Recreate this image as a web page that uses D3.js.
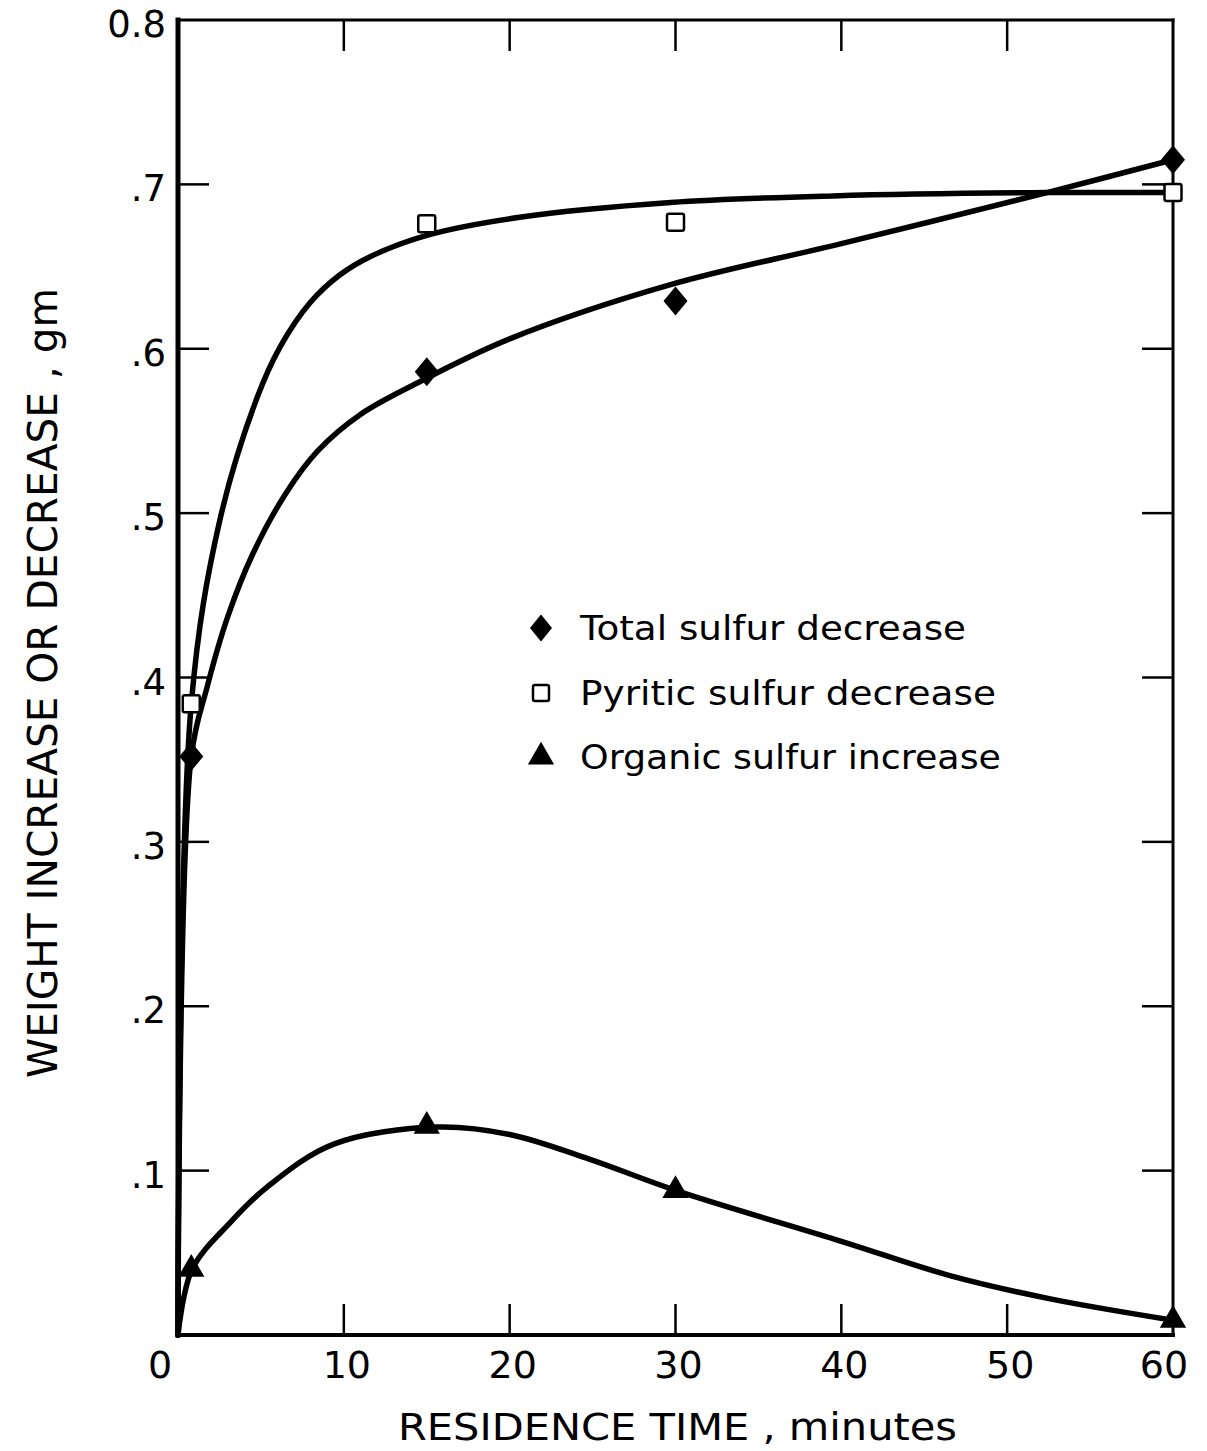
<!DOCTYPE html>
<html>
<head>
<meta charset="utf-8">
<script src="https://cdn.jsdelivr.net/npm/d3@7"></script>
<style>
  body { margin: 0; background: #fff; }
  svg { display: block; }
  text { font-family: "DejaVu Sans", "Liberation Sans", sans-serif; fill: #000; }
</style>
</head>
<body>
<div id="chart"></div>
<script>
// measured points (minutes, grams)
var timeMin = [0.8, 15, 30, 60];
var totalS = [0.352, 0.586, 0.629, 0.715];
var pyriticS = [0.384, 0.676, 0.677, 0.695];
var organicS = [0.040, 0.127, 0.088, 0.009];

// hand-drawn curves
var totalCurve = [[0, 0], [0.8, 0.352], [1.75, 0.394], [3.0, 0.437], [4.5, 0.475], [6.5, 0.512],
    [8.44, 0.538], [11, 0.560], [14.4, 0.579], [20, 0.606], [29.7, 0.639], [40, 0.664],
    [52.4, 0.695], [60, 0.715]];
var pyriticCurve = [[0, 0], [0.8, 0.384], [2.53, 0.496], [4.76, 0.570], [6.15, 0.601],
    [7.96, 0.628], [9.77, 0.645], [11.58, 0.656], [15, 0.669], [20.6, 0.680],
    [29.7, 0.689], [39.5, 0.693], [52.4, 0.695], [60, 0.695]];
var organicCurve = [[0, 0], [0.85, 0.040], [3.2, 0.069], [5.37, 0.090], [9.35, 0.116],
    [15.6, 0.1265], [20, 0.122], [24.8, 0.107], [30, 0.088], [40, 0.057],
    [46.6, 0.036], [52.6, 0.022], [60, 0.009]];

var xTicks = [0, 10, 20, 30, 40, 50, 60];
var yTicks = [0.1, 0.2, 0.3, 0.4, 0.5, 0.6, 0.7, 0.8];
var yTickLabels = [".1", ".2", ".3", ".4", ".5", ".6", ".7", "0.8"];
var legendNames = ["Total sulfur decrease", "Pyritic sulfur decrease", "Organic sulfur increase"];

(function() {
    var width = 1207,
        height = 1451,
        pLeft = 178, pRight = 1173, pTop = 20, pBottom = 1335;

    var x = d3.scaleLinear().domain([0, 60]).range([pLeft, pRight]);
    var y = d3.scaleLinear().domain([0, 0.8]).range([pBottom, pTop]);

    var svg = d3.select("#chart").append("svg")
        .attr("width", width)
        .attr("height", height);

    svg.append("rect").attr("width", width).attr("height", height).attr("fill", "#fff");

    // frame
    var frame = svg.append("g").attr("stroke", "#000").attr("fill", "none").attr("stroke-linecap", "square");
    frame.append("line").attr("x1", pLeft).attr("x2", pRight).attr("y1", pTop).attr("y2", pTop).attr("stroke-width", 3);
    frame.append("line").attr("x1", pRight).attr("x2", pRight).attr("y1", pTop).attr("y2", pBottom).attr("stroke-width", 3);
    frame.append("line").attr("x1", pLeft).attr("x2", pRight).attr("y1", pBottom).attr("y2", pBottom).attr("stroke-width", 4);
    frame.append("line").attr("x1", pLeft).attr("x2", pLeft).attr("y1", pTop).attr("y2", pBottom).attr("stroke-width", 5);

    // inward ticks
    var tickLen = 31;
    var innerX = xTicks.slice(1, -1),
        innerY = yTicks.slice(0, -1);
    var ticks = svg.append("g").attr("stroke", "#000").attr("stroke-width", 2.5);
    ticks.selectAll(".tb").data(innerX).enter().append("line")
        .attr("x1", x).attr("x2", x).attr("y1", pBottom).attr("y2", pBottom - tickLen);
    ticks.selectAll(".tt").data(innerX).enter().append("line")
        .attr("x1", x).attr("x2", x).attr("y1", pTop).attr("y2", pTop + tickLen);
    ticks.selectAll(".tl").data(innerY).enter().append("line")
        .attr("y1", y).attr("y2", y).attr("x1", pLeft).attr("x2", pLeft + tickLen);
    ticks.selectAll(".tr").data(innerY).enter().append("line")
        .attr("y1", y).attr("y2", y).attr("x1", pRight).attr("x2", pRight - tickLen);

    // tick labels
    svg.append("g").selectAll("text").data(xTicks).enter().append("text")
        .attr("x", function(d) {
            if (d === 0) return x(d) - 18;
            if (d === 60) return x(d) - 9;
            return x(d) + 3;
        })
        .attr("y", pBottom + 43)
        .attr("text-anchor", "middle")
        .attr("font-size", 38)
        .text(function(d) { return d; });

    svg.append("g").selectAll("text").data(yTicks).enter().append("text")
        .attr("x", 166)
        .attr("y", function(d) { return y(d) + 17; })
        .attr("text-anchor", "end")
        .attr("font-size", 37)
        .text(function(d, i) { return yTickLabels[i]; });

    // axis titles
    svg.append("text")
        .attr("x", 398)
        .attr("y", 1440)
        .attr("font-size", 37)
        .attr("textLength", 559)
        .attr("lengthAdjust", "spacingAndGlyphs")
        .text("RESIDENCE  TIME , minutes");

    svg.append("text")
        .attr("transform", "translate(57,1078) rotate(-90)")
        .attr("font-size", 40)
        .attr("textLength", 790)
        .attr("lengthAdjust", "spacingAndGlyphs")
        .text("WEIGHT INCREASE OR DECREASE , gm");

    // curves
    var line = d3.line()
        .x(function(d) { return x(d[0]); })
        .y(function(d) { return y(d[1]); })
        .curve(d3.curveCatmullRom.alpha(0.5));

    var curves = svg.append("g").attr("fill", "none").attr("stroke", "#000")
        .attr("stroke-width", 5.5).attr("stroke-linejoin", "round").attr("stroke-linecap", "round");
    [totalCurve, pyriticCurve, organicCurve].forEach(function(c) {
        curves.append("path").attr("d", line(c));
    });

    // markers
    function diamond(cx, cy, w, h) {
        return "M" + cx + "," + (cy - h / 2) + "L" + (cx + w / 2) + "," + cy +
               "L" + cx + "," + (cy + h / 2) + "L" + (cx - w / 2) + "," + cy + "Z";
    }
    var tri = d3.symbol().type(d3.symbolTriangle).size(300);

    var marks = svg.append("g");
    marks.selectAll(".dia").data(timeMin).enter().append("path")
        .attr("d", function(d, i) { return diamond(x(d), y(totalS[i]), 24, 29); })
        .attr("fill", "#000");
    marks.selectAll(".sq").data(timeMin).enter().append("rect")
        .attr("x", function(d) { return x(d) - 8.5; })
        .attr("y", function(d, i) { return y(pyriticS[i]) - 8.5; })
        .attr("width", 17).attr("height", 17).attr("rx", 2)
        .attr("fill", "#fff").attr("stroke", "#000").attr("stroke-width", 2.5);
    marks.selectAll(".tri").data(timeMin).enter().append("path")
        .attr("d", tri)
        .attr("transform", function(d, i) { return "translate(" + x(d) + "," + y(organicS[i]) + ")"; })
        .attr("fill", "#000");

    // legend
    var lg = svg.append("g");
    var rowY = [628, 693, 757];
    lg.append("path").attr("d", diamond(541, rowY[0], 22, 27)).attr("fill", "#000");
    lg.append("rect").attr("x", 533).attr("y", rowY[1] - 8).attr("width", 16).attr("height", 16)
        .attr("rx", 2).attr("fill", "#fff").attr("stroke", "#000").attr("stroke-width", 2.5);
    lg.append("path").attr("d", tri).attr("transform", "translate(541," + rowY[2] + ")").attr("fill", "#000");

    var legendLen = [386, 416, 421];
    lg.selectAll("text").data(legendNames).enter().append("text")
        .attr("x", 580)
        .attr("y", function(d, i) { return rowY[i] + 12; })
        .attr("font-size", 33)
        .attr("textLength", function(d, i) { return legendLen[i]; })
        .attr("lengthAdjust", "spacingAndGlyphs")
        .text(function(d) { return d; });
})();
</script>
</body>
</html>
